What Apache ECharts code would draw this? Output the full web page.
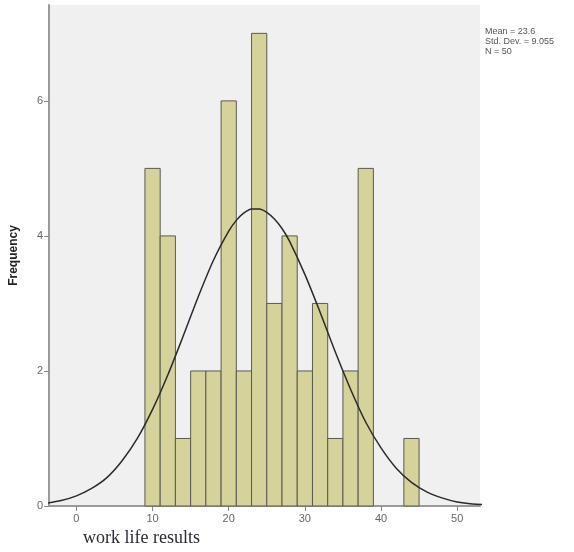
<!DOCTYPE html>
<html>
<head>
<meta charset="utf-8">
<script src="https://cdn.jsdelivr.net/npm/echarts@6/dist/echarts.min.js"></script>
<style>
  html, body { margin: 0; padding: 0; background: #fff; }
  #chart { width: 574px; height: 552px; }
</style>
</head>
<body>
<div id="chart"></div>
<script>
// histogram bins (width 2) and counts
let binStart = [9, 11, 13, 15, 17, 19, 21, 23, 25, 27, 29, 31, 33, 35, 37, 43]
let binEnd   = [11, 13, 15, 17, 19, 21, 23, 25, 27, 29, 31, 33, 35, 37, 39, 45]
let counts   = [5, 4, 1, 2, 2, 6, 2, 7, 3, 4, 2, 3, 1, 2, 5, 1]

// normal curve (mean 23.6, sd 9.055)
let curveX = [-4, -2, 0, 2, 4, 6, 8, 10, 12, 14, 16, 18, 20, 21, 22, 23, 24, 25, 26, 27, 28, 30, 32, 34, 36, 38, 40, 42, 44, 46, 48, 50, 52, 54]
let curveY = [0.04, 0.08, 0.15, 0.26, 0.42, 0.67, 1.0, 1.43, 1.94, 2.51, 3.1, 3.64, 4.07, 4.23, 4.34, 4.40, 4.40, 4.35, 4.25, 4.11, 3.92, 3.43, 2.87, 2.28, 1.73, 1.24, 0.86, 0.56, 0.35, 0.21, 0.12, 0.06, 0.03, 0.02]

let xTicks = [0, 10, 20, 30, 40, 50]
let yTicks = [0, 2, 4, 6]

let statLines = ['Mean = 23.6', 'Std. Dev. = 9.055', 'N = 50']

let barFill = '#d6d29b'
let barEdge = '#5a5a50'
let axisGray = '#9a9a9a'

let binData = binStart.map((s, i) => [s, binEnd[i], counts[i]])
let curveData = curveX.map((x, i) => [x, curveY[i]])

let myChart = echarts.init(document.getElementById('chart'))

let option = {
  animation: false,
  grid: {
    left: 48, right: 94, top: 5, bottom: 46,
    show: true, backgroundColor: '#f0f0f0', borderWidth: 0,
  },
  xAxis: {
    type: 'value',
    min: -3.6,
    max: 53,
    splitLine: { show: false },
    axisLine: { show: true, onZero: false, lineStyle: { color: axisGray, width: 2 } },
    axisTick: { show: true, length: 5, customValues: xTicks, lineStyle: { color: '#888' } },
    axisLabel: { customValues: xTicks, color: '#666', fontSize: 11, margin: 7, fontFamily: 'Liberation Sans' },
  },
  yAxis: {
    type: 'value',
    min: 0,
    max: 7.42,
    name: 'Frequency',
    nameLocation: 'middle',
    nameGap: 29,
    nameTextStyle: { fontWeight: 'bold', fontSize: 12, color: '#222', fontFamily: 'Liberation Sans' },
    splitLine: { show: false },
    axisLine: { show: true, onZero: false, lineStyle: { color: axisGray, width: 2 } },
    axisTick: { show: true, length: 5, customValues: yTicks, lineStyle: { color: '#888' } },
    axisLabel: { customValues: yTicks, color: '#666', fontSize: 11, margin: 6, fontFamily: 'Liberation Sans' },
  },
  series: [
    {
      type: 'custom',
      data: binData,
      renderItem: (params, api) => {
        let p0 = api.coord([api.value(0), api.value(2)])
        let p1 = api.coord([api.value(1), 0])
        return {
          type: 'rect',
          shape: { x: p0[0], y: p0[1], width: p1[0] - p0[0], height: p1[1] - p0[1] },
          style: { fill: barFill, stroke: barEdge, lineWidth: 1 },
        }
      },
      z: 2,
    },
    {
      type: 'line',
      data: curveData,
      smooth: 0.3,
      symbol: 'none',
      clip: true,
      lineStyle: { color: '#2a2a2a', width: 1.5 },
      z: 3,
    },
  ],
  graphic: [
    {
      type: 'text',
      left: 485,
      top: 27,
      style: {
        text: statLines.join('\n'),
        fontSize: 9,
        lineHeight: 10,
        fill: '#555',
        fontFamily: 'Liberation Sans',
      },
    },
    {
      type: 'text',
      left: 83,
      top: 529,
      style: {
        text: 'work life results',
        fontSize: 18,
        fill: '#2a2a3a',
        fontFamily: 'Liberation Serif',
      },
    },
  ],
}

myChart.setOption(option)
</script>
</body>
</html>
